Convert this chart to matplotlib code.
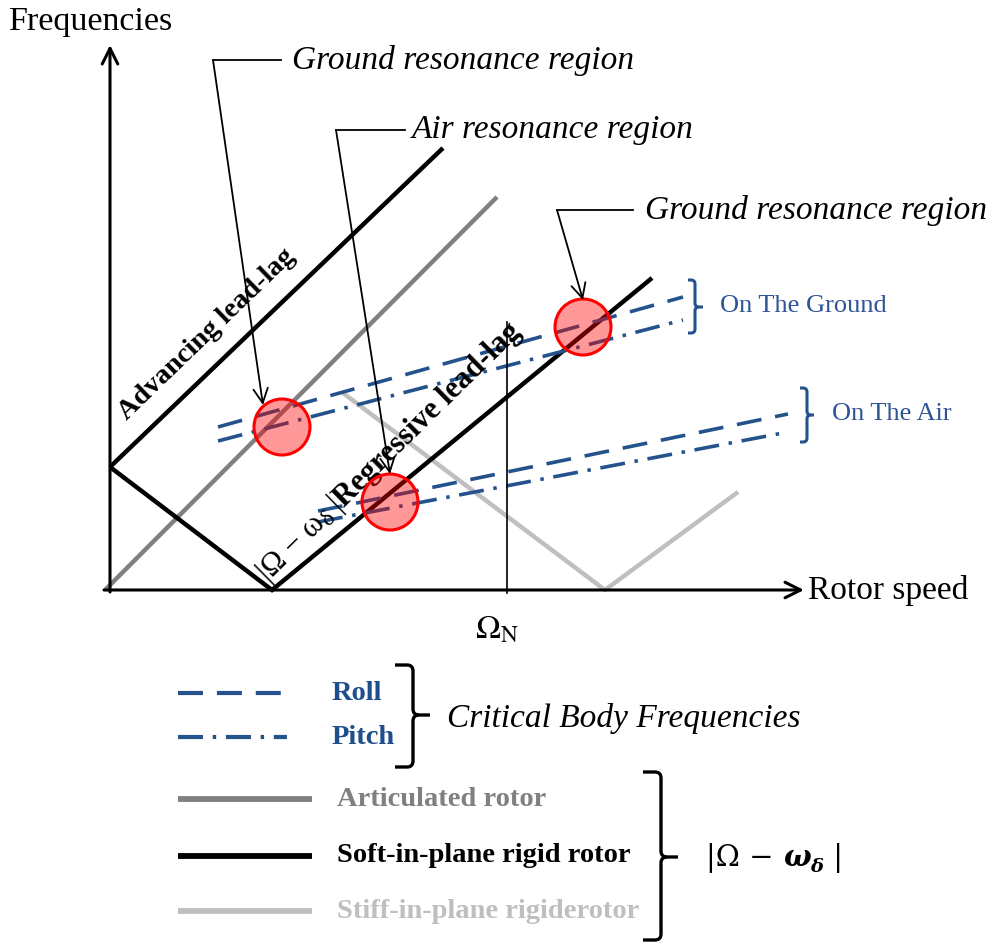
import matplotlib
matplotlib.use("Agg")
import matplotlib.pyplot as plt
from matplotlib.patches import Circle, PathPatch
from matplotlib.path import Path
import numpy as np

plt.rcParams['font.family'] = ['Liberation Serif', 'DejaVu Serif']
plt.rcParams['mathtext.fontset'] = 'stix'
plt.rcParams['lines.scale_dashes'] = False

# ---------------- data (rotor speed / frequency, chart units) ----------------
advancing_speed = [0, 333]
advancing_freq = [123, 442]
articulated_speed = [-5, 387]
articulated_freq = [0, 393]
soft_speed = [0, 162, 542]
soft_freq = [123, 0, 312]
stiff_speed = [233, 495, 628]
stiff_freq = [197, 0, 98]
nominal_speed = 397
nominal_top = 268

body_speed_ground = [108, 573]
roll_ground = [163, 293]
pitch_ground = [149, 270]
body_speed_air = [208, 678]
roll_air = [79, 176]
pitch_air = [68, 158]

resonance_speed = [172, 280, 473]
resonance_freq = [163, 88, 263]
resonance_labels = ["Ground resonance region", "Air resonance region",
                    "Ground resonance region"]

legend_labels = ["Roll", "Pitch", "Articulated rotor",
                 "Soft-in-plane rigid rotor", "Stiff-in-plane rigiderotor"]

# ---------------- styles ----------------
BLUE = "#24528C"
BLUE_TXT = "#2F5597"
GREY = "#808080"
LIGHT = "#BFBFBF"
DASH = (0, (18, 10))
DASHDOT = (0, (18, 7, 2.5, 7))

W, H = 994, 942
OX, OY = 110, 590  # pixel position of the axes corner


def px(x, y):
    """Pixel position (y down) -> chart coordinates."""
    return x - OX, OY - y


fig = plt.figure(figsize=(W / 100, H / 100), dpi=100)
ax = fig.add_axes([0, 0, 1, 1])
ax.set_xlim(-OX, W - OX)
ax.set_ylim(OY - H, OY)
ax.axis('off')
renderer = fig.canvas.get_renderer()

# ---------------- axes with arrows ----------------
arrow_kw = dict(arrowstyle='->', lw=2.2, color='black', mutation_scale=28,
                shrinkA=0, shrinkB=0)
ax.annotate('', xy=px(110, 45), xytext=px(110, 592), arrowprops=arrow_kw)
ax.annotate('', xy=px(804, 590), xytext=px(104, 590), arrowprops=arrow_kw)
ax.text(*px(9, 22), "Frequencies", fontsize=24.5, ha='left', va='center')
ax.text(*px(808, 590), "Rotor speed", fontsize=24, ha='left', va='center')

# ---------------- lead-lag branches ----------------
ax.plot(articulated_speed, articulated_freq, color=GREY, lw=3.2,
        solid_capstyle='butt', zorder=2)
ax.plot(stiff_speed, stiff_freq, color=LIGHT, lw=3.2,
        solid_capstyle='butt', zorder=2)
ax.plot(advancing_speed, advancing_freq, color='black', lw=3.2,
        solid_capstyle='butt', zorder=3)
ax.plot(soft_speed, soft_freq, color='black', lw=3.2,
        solid_capstyle='butt', solid_joinstyle='miter', zorder=3)

# nominal rotor speed
ax.plot([nominal_speed, nominal_speed], [-3, nominal_top], color='black',
        lw=1.2, zorder=4)
ax.text(*px(497, 630), r'$\Omega_{\mathrm{N}}$', fontsize=24,
        ha='center', va='center')

# ---------------- body frequencies ----------------
ax.plot(body_speed_ground, roll_ground, color=BLUE, lw=2.6, ls=DASH, zorder=3)
ax.plot(body_speed_ground, pitch_ground, color=BLUE, lw=2.6, ls=DASHDOT, zorder=3)
ax.plot(body_speed_air, roll_air, color=BLUE, lw=2.6, ls=DASH, zorder=3)
ax.plot(body_speed_air, pitch_air, color=BLUE, lw=2.6, ls=DASHDOT, zorder=3)

# ---------------- resonance regions ----------------
for s, f in zip(resonance_speed, resonance_freq):
    ax.add_patch(Circle((s, f), 28, facecolor=(1, 0, 0, 0.4),
                        edgecolor='red', lw=2.2, zorder=6))

corners = [(213, 60), (336, 130), (557, 210)]
stubs = [(281, 60), (405, 130), (633, 210)]
tips = [(263, 405), (390, 474), (583, 300)]
label_x = [292, 412, 645]
for lab, c, s, t, lx in zip(resonance_labels, corners, stubs, tips, label_x):
    ax.plot(*zip(px(*s), px(*c)), color='black', lw=1.3, zorder=7)
    ax.annotate('', xy=px(*t), xytext=px(*c),
                arrowprops=dict(arrowstyle='->', lw=1.3, color='black',
                                mutation_scale=26, shrinkA=0, shrinkB=0),
                zorder=7)
    ax.text(*px(lx, c[1]), lab, fontsize=24, style='italic',
            ha='left', va='center')


# ---------------- rotated / composite labels ----------------
def text_run(parts, start, angle):
    """Place text pieces one after another along a direction."""
    x0, y0 = start
    ca, sa = np.cos(np.radians(angle)), np.sin(np.radians(angle))
    pos = 0.0
    for s, kw, drop in parts:
        tmp = ax.text(0, 0, s, **kw)
        wdt = tmp.get_window_extent(renderer).width
        tmp.remove()
        ax.text(x0 + pos * ca + drop * sa, y0 + pos * sa - drop * ca, s,
                rotation=angle, rotation_mode='anchor', ha='left',
                va='baseline', **kw)
        pos += wdt


text_run([("Advancing lead-lag", dict(fontsize=20.5, fontweight='bold'), 0)],
         px(127, 421), 44)

text_run([("|Ω − ω", dict(fontsize=22), 0),
          ("δ", dict(fontsize=17), 3),
          (" |", dict(fontsize=22), 0),
          ("Regressive lead-lag", dict(fontsize=22, fontweight='bold'), 0)],
         px(268, 582), 44.5)


# ---------------- braces ----------------
def brace(xl, xv, xt, yt, ym, yb, color, lw, r=6):
    verts = [px(xl, yt), px(xv - r, yt), px(xv, yt), px(xv, yt + r),
             px(xv, ym - r), px(xv, ym), px(xv + r, ym), px(xt, ym)]
    codes = [Path.MOVETO, Path.LINETO, Path.CURVE3, Path.CURVE3,
             Path.LINETO, Path.CURVE3, Path.CURVE3, Path.LINETO]
    verts2 = [px(xl, yb), px(xv - r, yb), px(xv, yb), px(xv, yb - r),
              px(xv, ym + r), px(xv, ym), px(xv + r, ym)]
    codes2 = [Path.MOVETO, Path.LINETO, Path.CURVE3, Path.CURVE3,
              Path.LINETO, Path.CURVE3, Path.CURVE3]
    for v, c in ((verts, codes), (verts2, codes2)):
        ax.add_patch(PathPatch(Path(v, c), facecolor='none', edgecolor=color,
                               lw=lw, capstyle='butt', joinstyle='round'))


brace(688, 695, 703, 280, 307, 333, BLUE, 2.2, r=4)
ax.text(*px(720, 306), "On The Ground", fontsize=19, color=BLUE_TXT,
        ha='left', va='center')
brace(800, 807, 814, 388, 415, 442, BLUE, 2.2, r=4)
ax.text(*px(832, 414), "On The Air", fontsize=19, color=BLUE_TXT,
        ha='left', va='center')

# ---------------- legend ----------------
sample_x = [(178, 287), (178, 287), (178, 312), (178, 312), (178, 312)]
sample_y = [693, 737, 799, 856, 911]
sample_style = [dict(color=BLUE, lw=3.0, ls=DASH),
                dict(color=BLUE, lw=3.0, ls=DASHDOT),
                dict(color=GREY, lw=4.2, solid_capstyle='butt'),
                dict(color='black', lw=4.2, solid_capstyle='butt'),
                dict(color=LIGHT, lw=4.2, solid_capstyle='butt')]
text_x = [332, 332, 337, 337, 337]
text_color = ["#1F4E8C", "#1F4E8C", GREY, 'black', LIGHT]
for lab, (xa, xb), y, st, tx, tc in zip(legend_labels, sample_x, sample_y,
                                        sample_style, text_x, text_color):
    ax.plot(*zip(px(xa, y), px(xb, y)), **st)
    ax.text(*px(tx, y), lab, fontsize=20.5, fontweight='bold', color=tc,
            ha='left', va='center')

brace(395, 413, 430, 665, 715, 767, 'black', 2.4, r=6)
ax.text(*px(447, 718), "Critical Body Frequencies", fontsize=24,
        style='italic', ha='left', va='center')

brace(643, 661, 678, 772, 857, 940, 'black', 2.4, r=6)
text_run([("|Ω − ", dict(fontsize=21, family=['DejaVu Serif']), 0),
          ("ω", dict(fontsize=21, family=['DejaVu Serif'], fontweight='bold',
                     style='italic'), 0),
          ("δ", dict(fontsize=14, family=['DejaVu Serif'], fontweight='bold',
                     style='italic'), 6),
          (" |", dict(fontsize=21, family=['DejaVu Serif']), 0)],
         px(706, 866), 0)

fig.savefig("out.png", dpi=100)
